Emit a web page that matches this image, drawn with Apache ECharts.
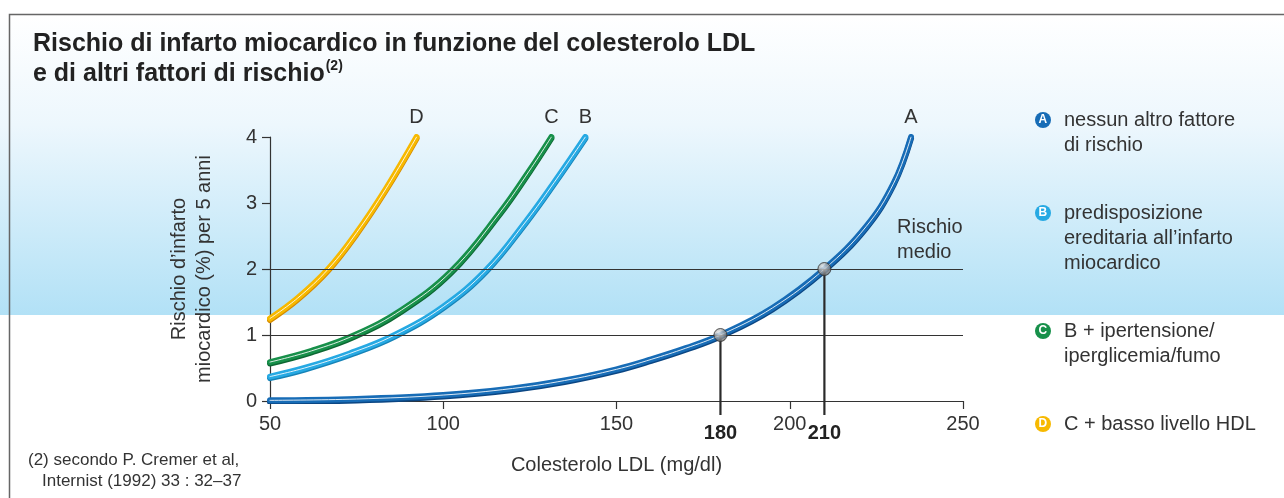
<!DOCTYPE html>
<html>
<head>
<meta charset="utf-8">
<script src="https://cdn.jsdelivr.net/npm/echarts@6/dist/echarts.min.js"></script>
<style>
  html, body { margin: 0; padding: 0; background: #fff; }
  #chart { width: 1284px; height: 498px; }
</style>
</head>
<body>
<div id="chart"></div>
<script>
// values: LDL (mg/dl) -> 5-year risk (%)
const ldlA = [50, 75, 100, 120, 135, 150, 160, 170, 180, 195, 210, 222, 230, 235];
const riskA = [0.01, 0.03, 0.09, 0.19, 0.31, 0.48, 0.63, 0.8, 1.0, 1.41, 2.0, 2.64, 3.3, 4.0];
const ldlB = [50, 60, 73, 86, 100, 112.5, 124, 132, 141];
const riskB = [0.37, 0.5, 0.72, 1.0, 1.43, 1.99, 2.73, 3.31, 4.0];
const ldlC = [50, 62, 74.5, 88, 102.4, 116.3, 125, 131.2];
const riskC = [0.59, 0.76, 1.0, 1.38, 1.97, 2.85, 3.5, 4.0];
const ldlD = [50, 58, 66.8, 75, 83.5, 92.3];
const riskD = [1.25, 1.56, 2.0, 2.55, 3.22, 4.0];

const refLdl = [180, 210];
const refRisk = [1, 2];
const levelLines = [1, 2];

const xTicks = [50, 100, 150, 200, 250];
const yTicks = [0, 1, 2, 3, 4];

const legendText = {
  A: ['nessun altro fattore', 'di rischio'],
  B: ['predisposizione', 'ereditaria all’infarto', 'miocardico'],
  C: ['B + ipertensione/', 'iperglicemia/fumo'],
  D: ['C + basso livello HDL']
};

const FONT = 'Liberation Sans';
const colors = { A: '#176cb6', B: '#26a9e3', C: '#17904a', D: '#f7b900' };
const darks = { A: '#0b4683', B: '#1683b7', C: '#0d6633', D: '#d58a00' };

const chart = echarts.init(document.getElementById('chart'));

function pairs(xs, ys) { return xs.map((x, i) => [x, ys[i]]); }

function curve(name, xs, ys) {
  const data = pairs(xs, ys);
  const last = data[data.length - 1];
  return [{
    name: name,
    type: 'line',
    data: data,
    smooth: 0.4,
    symbol: 'none',
    z: 3,
    lineStyle: {
      width: 6, color: colors[name], cap: 'round',
      shadowColor: darks[name], shadowBlur: 0, shadowOffsetY: 1.5
    },
    itemStyle: { color: colors[name] },
    markPoint: {
      symbol: 'circle', symbolSize: 1,
      itemStyle: { color: 'rgba(0,0,0,0)' },
      label: { show: true, position: 'top', distance: 9, formatter: name,
               color: '#333', fontSize: 20, fontFamily: FONT },
      data: [{ coord: last }]
    }
  }, {
    name: name + '-hl',
    type: 'line',
    data: data,
    smooth: 0.4,
    symbol: 'none',
    z: 4,
    silent: true,
    lineStyle: { width: 1, color: 'rgba(255,255,255,0.85)', cap: 'round' }
  }];
}

const legendRich = {
  A: { backgroundColor: colors.A },
  B: { backgroundColor: colors.B },
  C: { backgroundColor: colors.C },
  D: { backgroundColor: colors.D }
};
Object.keys(legendRich).forEach(k => Object.assign(legendRich[k], {
  width: 9, height: 16, padding: [0, 3.5], borderRadius: 8,
  color: '#fff', fontWeight: 'bold', fontSize: 12, fontFamily: FONT, lineHeight: 16
}));
legendRich.t = { fontSize: 20, color: '#333', fontFamily: FONT, lineHeight: 25, padding: [0, 0, 0, 13] };
legendRich.p = { width: 16, height: 16 };

const option = {
  animation: false,
  backgroundColor: {
    type: 'linear', x: 0, y: 0, x2: 0, y2: 1,
    colorStops: [
      { offset: 0, color: '#ffffff' },
      { offset: 0.03, color: '#ffffff' },
      { offset: 0.25, color: '#edf7fd' },
      { offset: 0.632, color: '#b2e1f6' },
      { offset: 0.633, color: '#ffffff' },
      { offset: 1, color: '#ffffff' }
    ]
  },
  title: {
    left: 28, top: 24,
    text: '{m|Rischio di infarto miocardico in funzione del colesterolo LDL}\n{m|e di altri fattori di rischio}{s|(2)}',
    textStyle: {
      rich: {
        m: { fontSize: 25, fontWeight: 'bold', color: '#222', fontFamily: FONT, lineHeight: 30 },
        s: { fontSize: 14, fontWeight: 'bold', color: '#222', fontFamily: FONT, verticalAlign: 'top', lineHeight: 30, padding: [0, 0, 12, 1] }
      }
    }
  },
  legend: {
    orient: 'vertical',
    left: 1025, top: 105,
    itemGap: 48,
    itemWidth: 0, itemHeight: 0,
    icon: 'none',
    selectedMode: false,
    data: ['A', 'B', 'C', 'D'],
    formatter: function (name) {
      return legendText[name].map((line, i) =>
        (i === 0 ? '{' + name + '|' + name + '}' : '{p|}') + '{t|' + line + '}').join('\n');
    },
    textStyle: { rich: legendRich }
  },
  grid: { left: 270, right: 321, top: 137, bottom: 97 },
  xAxis: {
    type: 'value', min: xTicks[0], max: xTicks[xTicks.length - 1], interval: 50,
    name: 'Colesterolo LDL (mg/dl)', nameLocation: 'middle', nameGap: 54,
    nameTextStyle: { fontSize: 20, color: '#333', fontFamily: FONT },
    axisLine: { lineStyle: { color: '#333', width: 1.2 } },
    axisTick: { length: 8, lineStyle: { color: '#333', width: 1.2 } },
    axisLabel: { fontSize: 20, color: '#333', fontFamily: FONT, margin: 13 },
    splitLine: { show: false }
  },
  yAxis: {
    type: 'value', min: yTicks[0], max: yTicks[yTicks.length - 1], interval: 1,
    name: 'Rischio d’infarto\nmiocardico (%) per 5 anni', nameLocation: 'middle', nameGap: 53,
    nameTextStyle: { fontSize: 20, color: '#333', fontFamily: FONT, lineHeight: 25 },
    axisLine: { show: true, lineStyle: { color: '#333', width: 1.2 } },
    axisTick: { show: true, length: 8, lineStyle: { color: '#333', width: 1.2 } },
    axisLabel: { fontSize: 20, color: '#333', fontFamily: FONT, margin: 13 },
    splitLine: { show: false }
  },
  graphic: [
    {
      type: 'polyline', silent: true,
      shape: { points: [[9.5, 498], [9.5, 14.5], [1284, 14.5]] },
      style: { stroke: '#666', lineWidth: 1.5, fill: null }
    },
    {
      type: 'text', left: 897, top: 215, silent: true,
      style: { text: 'Rischio\nmedio', fontSize: 20, lineHeight: 25, fill: '#333', fontFamily: FONT }
    },
    {
      type: 'text', left: 28, top: 452, silent: true,
      style: { text: '(2) secondo P. Cremer et al,', fontSize: 17, fill: '#333', fontFamily: FONT }
    },
    {
      type: 'text', left: 42, top: 473, silent: true,
      style: { text: 'Internist (1992) 33 : 32–37', fontSize: 17, fill: '#333', fontFamily: FONT }
    }
  ],
  series: [
    {
      name: 'levels',
      type: 'line',
      data: [],
      z: 1,
      silent: true,
      markLine: {
        symbol: 'none', silent: true,
        lineStyle: { color: '#333', width: 1.2, type: 'solid' },
        label: { show: false },
        data: levelLines.map(v => ({ yAxis: v }))
      }
    },
    ...curve('D', ldlD, riskD),
    ...curve('C', ldlC, riskC),
    ...curve('B', ldlB, riskB),
    ...curve('A', ldlA, riskA),
    {
      // drop lines from the reference points down past the axis, with bold value
      name: 'drops',
      type: 'custom',
      data: pairs(refLdl, refRisk),
      z: 5,
      clip: false,
      silent: true,
      renderItem: function (params, api) {
        const x = api.value(0);
        const top = api.coord([x, api.value(1)]);
        const base = api.coord([x, 0]);
        return {
          type: 'group',
          children: [
            { type: 'line', shape: { x1: top[0], y1: top[1], x2: base[0], y2: base[1] + 14 },
              style: { stroke: '#2a2a2a', lineWidth: 2.2 } },
            { type: 'text', x: base[0], y: base[1] + 32,
              style: { text: String(x), align: 'center', verticalAlign: 'middle',
                       font: 'bold 20px "Liberation Sans"', fill: '#222' } }
          ]
        };
      }
    },
    {
      name: 'ref',
      type: 'scatter',
      data: pairs(refLdl, refRisk),
      symbolSize: 13,
      z: 6,
      clip: false,
      itemStyle: {
        color: {
          type: 'radial', x: 0.4, y: 0.35, r: 0.7,
          colorStops: [{ offset: 0, color: '#f2f2f2' }, { offset: 1, color: '#555' }]
        },
        borderColor: '#333', borderWidth: 1
      }
    }
  ]
};

chart.setOption(option);
</script>
</body>
</html>
